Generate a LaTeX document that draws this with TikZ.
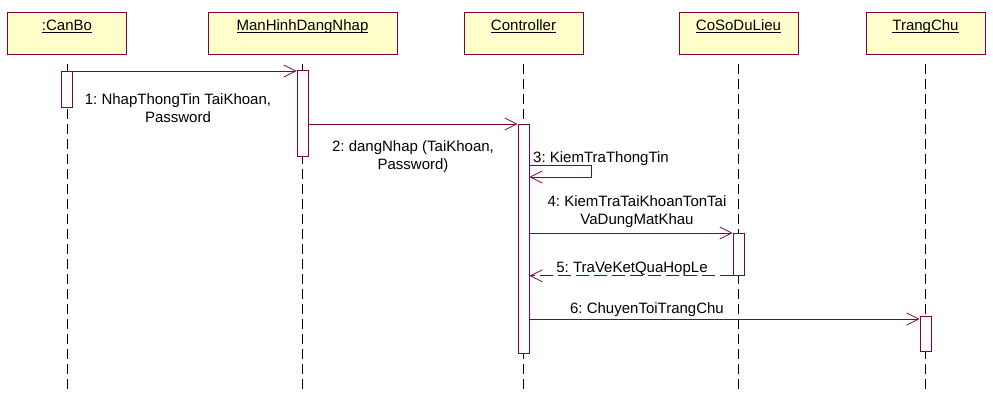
\documentclass[tikz,border=0pt]{standalone}
\usepackage{fontspec}
\setmainfont{Liberation Sans}
\usepackage{xcolor}
\usepackage{tikz}
\usetikzlibrary{arrows.meta}

\definecolor{boxfill}{RGB}{255,255,204}
\definecolor{rosered}{RGB}{128,0,64}

\newcommand{\hd}[1]{\underline{\smash{#1}}}
\frenchspacing

\begin{document}
\begin{tikzpicture}[x=1pt,y=-1pt,
    every node/.style={font=\fontsize{15}{18}\selectfont},
    head/.style={draw=rosered,fill=boxfill,line width=0.8pt,inner sep=0pt,
      minimum width=119pt,text height=19pt,text depth=23pt},
    life/.style={line width=0.7pt,dash pattern=on 10pt off 5pt},
    act/.style={draw=rosered,fill=white,line width=0.8pt,inner sep=0pt,
      minimum width=11pt,anchor=north},
    msg/.style={draw=rosered,line width=0.8pt,
      -{Straight Barb[length=12pt,width=12pt,line width=0.8pt]}},
    ret/.style={msg,dash pattern=on 13pt off 5pt},
    lbl/.style={align=center,inner sep=0pt,anchor=base}]
    \useasboundingbox (0,0) rectangle (993,404);
    % heads
    \node[head] (cb) at (67,33) {\hd{:CanBo}};
    \node[head,minimum width=189pt] (mh) at (302.5,33) {\hd{ManHinhDangNhap}};
    \node[head] (ct) at (523.5,33) {\hd{Controller}};
    \node[head] (db) at (738.5,33) {\hd{CoSoDuLieu}};
    \node[head] (tc) at (925.5,33) {\hd{TrangChu}};
    \coordinate (bot) at (0,390);
    % lifelines
    \foreach \o in {cb,mh,ct,db,tc}
      \draw[life] ([yshift=-10pt]\o.south) -- (\o.south |- bot);
    % activations
    \node[act,minimum height=36pt] (a1) at (cb.south |- 0,71) {};
    \node[act,minimum height=86pt] (a2) at (mh.south |- 0,70) {};
    \node[act,minimum height=229pt] (a3) at (ct.south |- 0,124) {};
    \node[act,minimum height=42pt] (a4) at (db.south |- 0,233) {};
    \node[act,minimum height=35pt] (a5) at (tc.south |- 0,316) {};
    % messages
    \draw[msg] (a1.north east) -- (a1.north east -| a2.west);
    \draw[msg] (a3.north west -| a2.east) -- (a3.north west);
    \draw[msg] ([yshift=-41pt]a3.north east) -| ++(62,12) -- ++(-62,0);
    \draw[msg] (a4.north west -| a3.east) -- (a4.north west);
    \draw[ret] (a4.south west) -- (a4.south west -| a3.east);
    \draw[msg] ([yshift=-3pt]a5.north west -| a3.east) -- ([yshift=-3pt]a5.north west);
    % labels (base = last line)
    \node[lbl] (l1) at (178,122) {1: NhapThongTin TaiKhoan,\\Password};
    \node[lbl] (l2) at (413,169) {2: dangNhap (TaiKhoan,\\Password)};
    \node[lbl,anchor=base west] (l3) at (533,162) {3: KiemTraThongTin};
    \node[lbl] (l4) at (637,224) {4: KiemTraTaiKhoanTonTai\\VaDungMatKhau};
    \node[lbl] (l5) at (632,272) {5: TraVeKetQuaHopLe};
    \node[lbl] (l6) at (647,313) {6: ChuyenToiTrangChu};
\end{tikzpicture}
\end{document}
